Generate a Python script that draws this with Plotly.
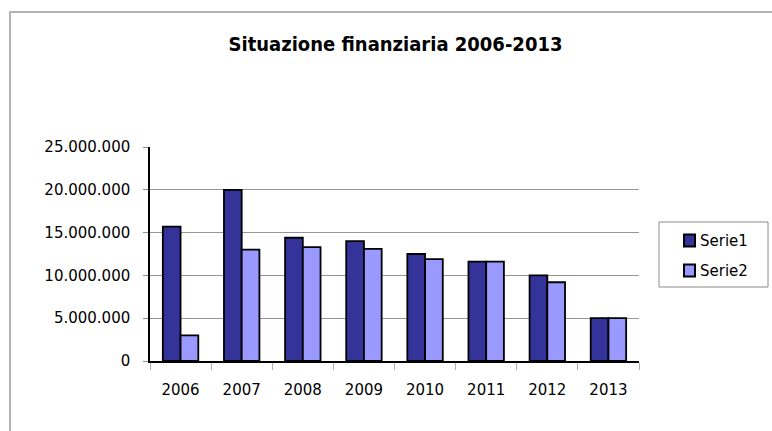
import plotly.graph_objects as go

# ---- data ----
years = ["2006", "2007", "2008", "2009", "2010", "2011", "2012", "2013"]
serie1 = [15700000, 20000000, 14400000, 14000000, 12500000, 11600000, 10000000, 5000000]
serie2 = [3000000, 13000000, 13300000, 13100000, 11900000, 11600000, 9200000, 5000000]
series_names = ["Serie1", "Serie2"]
series_colors = ["#333399", "#9999FF"]
y_tickvals = [0, 5000000, 10000000, 15000000, 20000000, 25000000]
title_text = "Situazione finanziaria 2006-2013"

# ---- layout geometry (pixels) ----
W, H = 772, 431
L, R, T, B = 150, 639, 147, 361
PW, PH = R - L, B - T


def px(x):
    return (x - L) / PW


def py(y):
    return (B - y) / PH


FONT = "DejaVu Sans"

fig = go.Figure()
for name, vals, col in zip(series_names, [serie1, serie2], series_colors):
    fig.add_trace(go.Bar(
        x=years, y=vals, name=name,
        marker=dict(color=col, line=dict(color="#000000", width=1.8)),
        showlegend=False,
    ))

shapes = []
# outer chart frame (cut by the window on right/bottom)
shapes.append(dict(type="rect", xref="paper", yref="paper",
                   x0=px(10), x1=px(785), y0=py(445), y1=py(12),
                   line=dict(color="#b4b4b4", width=2), layer="below"))
# legend box
shapes.append(dict(type="rect", xref="paper", yref="paper",
                   x0=px(659), x1=px(768), y0=py(287), y1=py(222),
                   line=dict(color="#8a8a8a", width=1)))
annotations = []
leg_y = [240.5, 270.5]
for name, col, cy in zip(series_names, series_colors, leg_y):
    shapes.append(dict(type="rect", xref="paper", yref="paper",
                       x0=px(684), x1=px(695), y0=py(cy + 6), y1=py(cy - 6),
                       fillcolor=col, line=dict(color="#000000", width=2)))
    annotations.append(dict(text=name, xref="paper", yref="paper",
                            x=px(698), y=py(cy), xanchor="left", yanchor="middle",
                            showarrow=False, font=dict(family=FONT, size=15, color="#000000")))

fig.update_layout(
    width=W, height=H,
    margin=dict(l=L, r=W - R, t=T, b=H - B),
    paper_bgcolor="#ffffff", plot_bgcolor="#ffffff",
    separators=",.",
    barmode="group", bargap=0.42, bargroupgap=0,
    title=dict(text="<b>" + title_text + "</b>", x=395.5 / W, xanchor="center",
               y=1 - 44 / H, yanchor="middle",
               font=dict(family="DejaVu Sans Condensed, DejaVu Sans", size=20, color="#000000")),
    shapes=shapes, annotations=annotations,
    xaxis=dict(type="category", showline=True, linecolor="#000000", linewidth=1.5,
               ticks="outside", tickson="boundaries", ticklen=7, tickcolor="#b0b0b0",
               tickfont=dict(family=FONT, size=15, color="#000000"),
               ticklabelstandoff=14, showgrid=False, fixedrange=True),
    yaxis=dict(range=[0, 25000000], tickvals=y_tickvals, tickformat=",d",
               showline=True, linecolor="#000000", linewidth=1.5,
               ticks="outside", ticklen=5, tickcolor="#909090",
               gridcolor="#969696", gridwidth=1.2, zeroline=False,
               tickfont=dict(family=FONT, size=15, color="#000000"),
               ticklabelstandoff=10, fixedrange=True),
)

fig.write_html("out.html")
